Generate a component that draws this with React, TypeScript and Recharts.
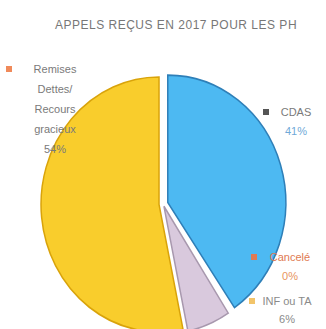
import React from "react";
import { PieChart, Pie, Cell, Sector } from "recharts";

const categories = ["CDAS", "Cancelé", "INF ou TA", "Remises Dettes/ Recours gracieux"];
const values = [41, 0.4, 6, 54];
const percentLabels = ["41%", "0%", "6%", "54%"];
const labelLines = [["CDAS", percentLabels[0]], ["Cancelé", percentLabels[1]], ["INF ou TA", percentLabels[2]], ["Remises", "Dettes/", "Recours", "gracieux", percentLabels[3]]];

const COLORS = ["#4DB9F2", "#FFFFFF", "#D9C9DD", "#F9CD2C"];
const EDGES = ["#2E7FB8", "#FFFFFF", "#A898AE", "#D9A30A"];
const EXPLODE = [5, 0, 2.5, 4];
const TEXT_COLORS = [["#7a7a7a", "#6FA9D8"], ["#E07A52", "#E8945E"], ["#8a8a8a", "#8a8a8a"], ["#7a7a7a", "#7a7a7a", "#7a7a7a", "#7a7a7a", "#7a7a7a"]];
const MARKER_COLORS = ["#555555", "#E07A52", "#F2C46A", "#F08A5A"];
// label block anchor offsets relative to pie centre (layout only)
const LABEL_LAYOUT = [
  { dx: 138, dy: -87, mx: -30, lh: 19 },
  { dx: 132, dy: 58, mx: -36, lh: 19 },
  { dx: 129, dy: 102, mx: -35, lh: 18 },
  { dx: -103, dy: -130, mx: -46, lh: 20 },
];

const data = categories.map((name, i) => ({ name, value: values[i] }));

const RAD = Math.PI / 180;
const CX = 158;
const CY = 199;

const ExplodedSector = (props: any) => {
  const { cx, cy, midAngle, innerRadius, outerRadius, startAngle, endAngle, index } = props;
  const off = EXPLODE[index] ?? 0;
  const nx = cx + off * Math.cos(-midAngle * RAD);
  const ny = cy + off * Math.sin(-midAngle * RAD);
  return (
    <g transform={`translate(${nx} ${ny}) scale(1 1.08) translate(${-nx} ${-ny})`}>
      <Sector
        cx={nx}
        cy={ny}
        innerRadius={innerRadius}
        outerRadius={outerRadius}
        startAngle={startAngle}
        endAngle={endAngle}
        fill={COLORS[index]}
        stroke={EDGES[index]}
        strokeWidth={1.5}
      />
    </g>
  );
};

const renderLabel = (props: any) => {
  const { index } = props;
  const lay = LABEL_LAYOUT[index];
  const lines = labelLines[index];
  const x = CX + lay.dx;
  const y0 = CY + lay.dy;
  return (
    <g key={`lbl-${index}`}>
      <rect x={x + lay.mx - 3} y={y0 - 3} width={6} height={6} fill={MARKER_COLORS[index]} />
      <text x={x} y={y0} textAnchor="middle" fontSize={11} fontFamily="Liberation Sans, Arial, sans-serif">
        {lines.map((l, k) => (
          <tspan key={k} x={x} y={y0 + k * lay.lh + 4} fill={TEXT_COLORS[index][k]}>
            {l}
          </tspan>
        ))}
      </text>
    </g>
  );
};

export default function App() {
  return (
    <div style={{ position: "absolute", left: 0, top: 0, background: "#fff" }}>
      <PieChart width={326} height={329}>
        <text x={176} y={29} textAnchor="middle" fontSize={12} letterSpacing={0.5} fill="#777777" fontFamily="Liberation Sans, Arial, sans-serif">
          APPELS REÇUS EN 2017 POUR LES PH
        </text>
        <Pie
          data={data}
          dataKey="value"
          nameKey="name"
          cx={CX}
          cy={CY}
          outerRadius={118}
          startAngle={90}
          endAngle={-270}
          isAnimationActive={false}
          shape={ExplodedSector}
          label={renderLabel}
          labelLine={false}
          stroke="#ffffff"
        >
          {data.map((d, i) => (
            <Cell key={d.name} fill={COLORS[i]} />
          ))}
        </Pie>
      </PieChart>
    </div>
  );
}
